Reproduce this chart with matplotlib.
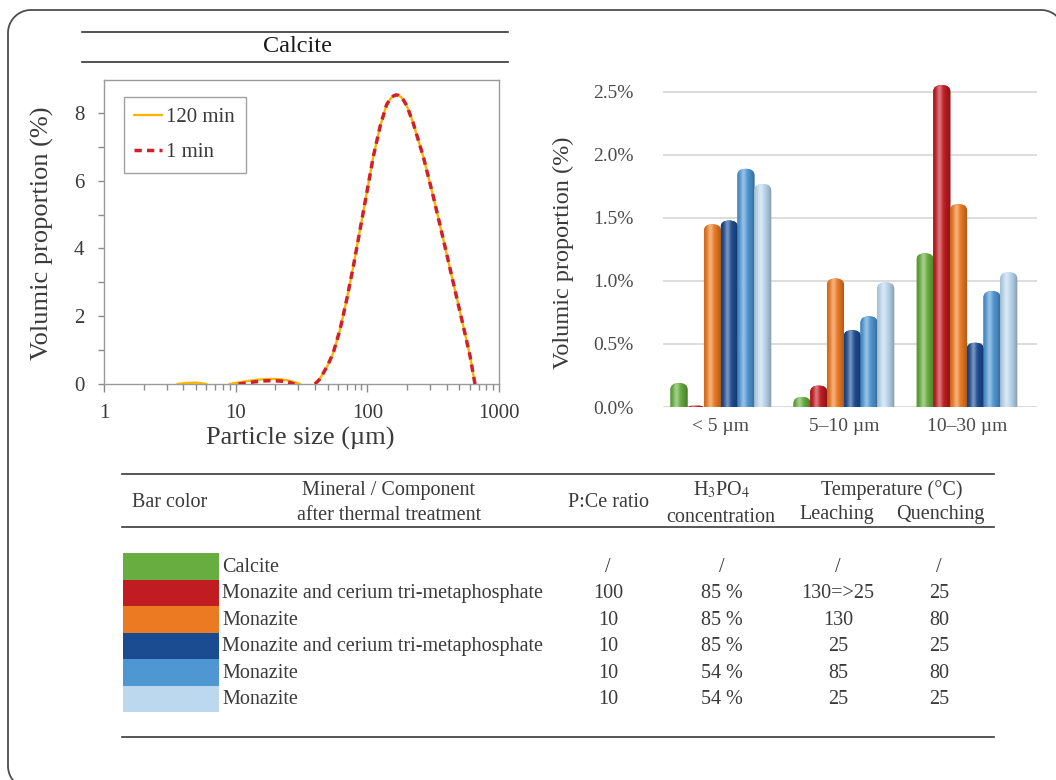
import numpy as np
import matplotlib
matplotlib.use('Agg')
import matplotlib.pyplot as plt
from matplotlib.patches import FancyBboxPatch, Rectangle
from matplotlib.lines import Line2D
import matplotlib.colors as mcolors

plt.rcParams['font.family'] = ['Liberation Serif', 'DejaVu Serif']
plt.rcParams['mathtext.fontset'] = 'stix'

nan = np.nan

# ---------------- Left chart data (particle size distribution, Calcite) -------------
peak_size = [40, 43, 46.3, 50, 55, 62, 69.7, 78.3, 88, 98.9, 111, 125, 140, 150, 158, 165,
             172, 180, 188, 200, 223, 266, 317, 378, 450, 536, 603, 630, 657]
peak_vol = [0.0, 0.12, 0.32, 0.55, 0.91, 1.6, 2.49, 3.47, 4.55, 5.63, 6.71, 7.6, 8.24, 8.42,
            8.5, 8.53, 8.52, 8.47, 8.38, 8.2, 7.7, 6.71, 5.53, 4.26, 2.98, 1.70, 0.82, 0.4, 0.0]
size_120 = [3.6, 4.2, 5.0, 6.0, 7.0, 9, 12, 15, 18, 22, 26, 31, 35] + peak_size
vol_120 = [0.0, 0.03, 0.04, 0.0, nan, 0.0, 0.08, 0.13, 0.15, 0.14, 0.09, 0.0, nan] + peak_vol
size_1 = [10.5, 13, 16, 19, 23, 26, 28, 35] + peak_size
vol_1 = [0.0, 0.05, 0.09, 0.10, 0.08, 0.04, 0.0, nan] + peak_vol

# ---------------- Right chart data (volumic proportion by size class) ----------------
size_classes = ['< 5 µm', '5–10 µm', '10–30 µm']
calcite = [0.19, 0.08, 1.22]
mct_100 = [0.01, 0.17, 2.555]
mon_10_85_130 = [1.45, 1.02, 1.61]
mct_10_85_25 = [1.48, 0.61, 0.51]
mon_10_54_85 = [1.89, 0.72, 0.92]
mon_10_54_25 = [1.77, 0.99, 1.07]
series = [calcite, mct_100, mon_10_85_130, mct_10_85_25, mon_10_54_85, mon_10_54_25]
bar_colors = ['#67ad3f', '#c01c22', '#ec7a22', '#1b4b91', '#4f97d3', '#bcd8ef']
y_ticks = [0.0, 0.5, 1.0, 1.5, 2.0, 2.5]

# ---------------- Table data ----------------
minerals = ['Calcite', 'Monazite and cerium tri-metaphosphate', 'Monazite',
            'Monazite and cerium tri-metaphosphate', 'Monazite', 'Monazite']
pce_ratio = ['/', '100', '10', '10', '10', '10']
h3po4 = ['/', '85 %', '85 %', '85 %', '54 %', '54 %']
leaching = ['/', '130=>25', '130', '25', '85', '25']
quenching = ['/', '25', '80', '25', '80', '25']

W, H = 1056, 780
fig = plt.figure(figsize=(W / 100, H / 100), dpi=100)


def box(l, t, r, b):
    return [l / W, 1 - b / H, (r - l) / W, (b - t) / H]


def fx(x):
    return x / W


def fy(y):
    return 1 - y / H


TXT = '#3a3a3a'

# outer rounded frame (runs off the right and bottom edges), built as a polyline in pixels
R = 23
L_, T_, R_, B_ = 8, 10, 1064, 789


def arc(cx, cy, a0, a1, n=24):
    ang = np.radians(np.linspace(a0, a1, n))
    return cx + R * np.cos(ang), cy - R * np.sin(ang)


xs, ys = [], []
for seg in (arc(L_ + R, B_ - R, 270, 180), arc(L_ + R, T_ + R, 180, 90),
            arc(R_ - R, T_ + R, 90, 0), arc(R_ - R, B_ - R, 0, -90)):
    xs.extend(seg[0])
    ys.extend(seg[1])
xs.append(xs[0])
ys.append(ys[0])
fig.add_artist(Line2D([fx(v) for v in xs], [fy(v) for v in ys], color='#4d4d4d', lw=1.3))

# ---------------- Left chart ----------------
ax1 = fig.add_axes(box(104, 80, 499, 384))
ax1.set_xscale('log')
ax1.plot(size_120, vol_120, color='#f7b500', lw=1.7, solid_capstyle='round', label='120 min', zorder=3)
ax1.plot(size_1, vol_1, color='#d0202a', lw=2.5, ls=(0, (2.1, 1.5)), label='1 min', zorder=4)
ax1.set_xlim(1, 1000)
ax1.set_ylim(0, 8.97)
ax1.set_yticks([0, 2, 4, 6, 8])
ax1.set_yticks([1, 3, 5, 7], minor=True)
ax1.set_xticks([1, 10, 100, 1000])
ax1.set_xticklabels(['1', '10', '100', '1000'])
for s in ax1.spines.values():
    s.set_color('#9a9a9a')
    s.set_linewidth(1.0)
ax1.tick_params(axis='both', which='major', length=5.5, color='#8a8a8a', labelsize=15,
                labelcolor=TXT, width=1.0)
ax1.tick_params(axis='both', which='minor', length=4, color='#8a8a8a', width=1.0)
ax1.tick_params(axis='x', which='major', pad=9)
ax1.tick_params(axis='y', which='major', length=4, pad=10)
leg = ax1.legend(loc='upper left', bbox_to_anchor=(0.05, 0.944), borderaxespad=0,
                 fontsize=15, frameon=True, fancybox=False, handlelength=1.35,
                 handletextpad=0.2, labelspacing=0.75, borderpad=0.5)
leg.get_frame().set_edgecolor('#8a8a8a')
leg.get_frame().set_linewidth(1.0)
for t in leg.get_texts():
    t.set_color(TXT)

fig.text(fx(300), fy(438), 'Particle size (µm)', fontsize=19, ha='center', va='center', color=TXT)
fig.text(fx(42), fy(233), 'Volumic proportion (%)', fontsize=19, ha='center', va='center',
         rotation=90, color=TXT)

# title band
fig.add_artist(Line2D([fx(82), fx(508)], [fy(32), fy(32)], color='#333333', lw=1.2))
fig.add_artist(Line2D([fx(82), fx(508)], [fy(62), fy(62)], color='#333333', lw=1.2))
fig.text(fx(297), fy(47), 'Calcite', fontsize=17.5, ha='center', va='center', color='#1a1a1a')

# ---------------- Right chart ----------------
ax2 = fig.add_axes(box(663, 80, 1037, 407))
x = np.arange(len(size_classes))
bw = 0.136
xlim = (-0.47, 2.57)
ylim = (0, 2.595)
ax2.set_xlim(*xlim)
ax2.set_ylim(*ylim)
ax_w_px = 1037 - 663
ax_h_px = 407 - 80
px_per_x = ax_w_px / (xlim[1] - xlim[0])
px_per_y = ax_h_px / (ylim[1] - ylim[0])


def shade(color, n=64):
    base = np.array(mcolors.to_rgb(color))
    t = np.linspace(0, 1, n)
    light = 0.40 * np.exp(-((t - 0.36) / 0.16) ** 2)
    dark = 0.32 * ((t - 0.4) / 0.6) ** 2
    cols = base[None, :] * (1 - dark[:, None])
    cols = cols + (1 - cols) * light[:, None]
    return np.clip(cols, 0, 1)[None, :, :]


n = len(series)
for i, (vals, c) in enumerate(zip(series, bar_colors)):
    off = (i - (n - 1) / 2) * bw
    bars = ax2.bar(x + off, vals, width=bw * 1.02, color=c, zorder=3)
    for p in bars:
        p.set_visible(False)
        x0, w, h = p.get_x(), p.get_width(), p.get_height()
        a = 0.75 * px_per_x / px_per_y
        r_y = (w / 2) * a
        tot = h + r_y
        rs = min(w / 2, tot / a / 2)
        fb = FancyBboxPatch((x0, -r_y), w, tot,
                            boxstyle='round,pad=0,rounding_size=%f' % rs,
                            mutation_aspect=a, facecolor=c, edgecolor='none', zorder=3)
        ax2.add_patch(fb)
        im = ax2.imshow(shade(c), extent=(x0, x0 + w, -r_y, h), aspect='auto',
                        interpolation='bilinear', zorder=4)
        im.set_clip_path(fb)

ax2.set_xlim(*xlim)
ax2.set_ylim(*ylim)
ax2.set_aspect('auto')
ax2.set_yticks(y_ticks)
ax2.set_yticklabels(['%.1f%%' % v for v in y_ticks])
ax2.set_xticks(x)
ax2.set_xticklabels(size_classes)
ax2.yaxis.grid(True, color='#dadada', lw=1.3, zorder=0)
ax2.set_axisbelow(True)
for s in ax2.spines.values():
    s.set_visible(False)
ax2.tick_params(axis='both', length=0, labelsize=14, labelcolor='#4a4a4a')
ax2.tick_params(axis='y', pad=21)
ax2.tick_params(axis='x', pad=8)
fig.text(fx(563), fy(253), 'Volumic proportion (%)', fontsize=17.5, ha='center', va='center',
         rotation=90, color=TXT)

# ---------------- Table ----------------
for yy in (474, 527, 737):
    fig.add_artist(Line2D([fx(122), fx(994)], [fy(yy), fy(yy)], color='#3a3a3a', lw=1.2))

fs = 14.5
fig.text(fx(170), fy(502), 'Bar color', fontsize=fs, ha='center', va='center', color=TXT)
fig.text(fx(389), fy(490), 'Mineral / Component', fontsize=fs, ha='center', va='center', color=TXT)
fig.text(fx(389), fy(515), 'after thermal treatment', fontsize=fs, ha='center', va='center', color=TXT)
fig.text(fx(608), fy(502), 'P:Ce ratio', fontsize=fs, ha='center', va='center', color=TXT)
fig.text(fx(722), fy(490), r'H$_3$PO$_4$', fontsize=fs, ha='center', va='center', color=TXT)
fig.text(fx(721), fy(518), 'concentration', fontsize=fs, ha='center', va='center', color=TXT)
fig.text(fx(892), fy(490), 'Temperature (°C)', fontsize=fs, ha='center', va='center', color=TXT)
fig.text(fx(837), fy(515), 'Leaching', fontsize=fs, ha='center', va='center', color=TXT)
fig.text(fx(940), fy(515), 'Quenching', fontsize=fs, ha='center', va='center', color=TXT)

row_top = 553
row_h = 26.5
for i in range(len(minerals)):
    t = row_top + i * row_h
    yc = t + row_h / 2 + 1
    fig.add_artist(Rectangle((fx(123), fy(t + row_h)), fx(219) - fx(123), fy(t) - fy(t + row_h),
                             transform=fig.transFigure, facecolor=bar_colors[i], edgecolor='none'))
    fig.text(fx(222), fy(yc), minerals[i], fontsize=fs, ha='left', va='center', color=TXT)
    fig.text(fx(608), fy(yc), pce_ratio[i], fontsize=fs, ha='center', va='center', color=TXT)
    fig.text(fx(722), fy(yc), h3po4[i], fontsize=fs, ha='center', va='center', color=TXT)
    fig.text(fx(838), fy(yc), leaching[i], fontsize=fs, ha='center', va='center', color=TXT)
    fig.text(fx(939), fy(yc), quenching[i], fontsize=fs, ha='center', va='center', color=TXT)

fig.savefig('out.png', dpi=100)
